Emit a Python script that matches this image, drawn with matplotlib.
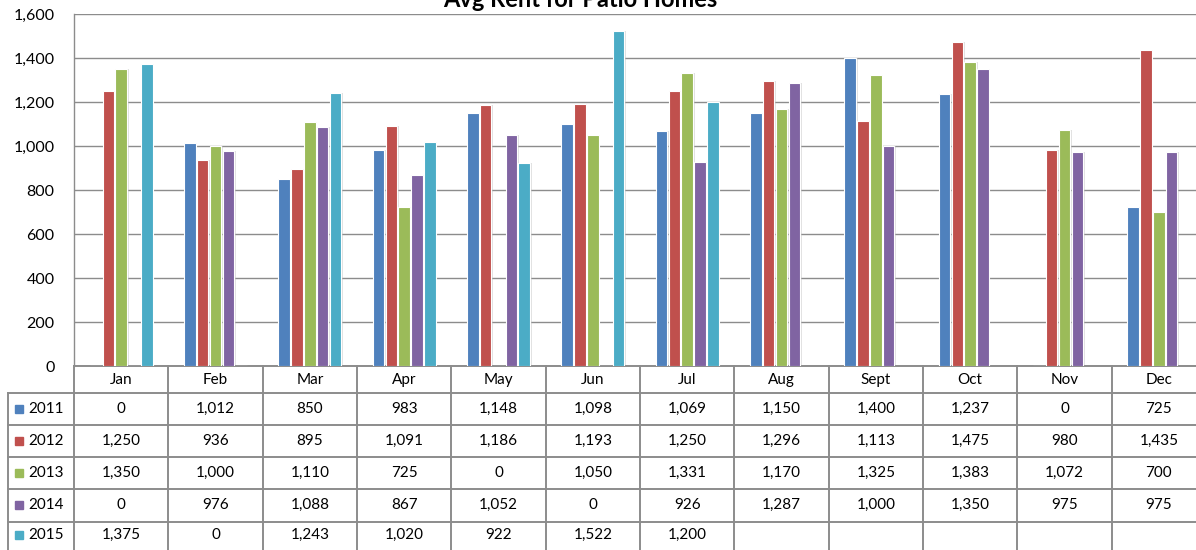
import numpy as np
import matplotlib
matplotlib.use("Agg")
import matplotlib.pyplot as plt
from matplotlib.patches import Rectangle

plt.rcParams['font.family'] = ['Lato', 'DejaVu Sans']

months = ["Jan", "Feb", "Mar", "Apr", "May", "Jun", "Jul", "Aug", "Sept", "Oct", "Nov", "Dec"]
years = ["2011", "2012", "2013", "2014", "2015"]
v2011 = [0, 1012, 850, 983, 1148, 1098, 1069, 1150, 1400, 1237, 0, 725]
v2012 = [1250, 936, 895, 1091, 1186, 1193, 1250, 1296, 1113, 1475, 980, 1435]
v2013 = [1350, 1000, 1110, 725, 0, 1050, 1331, 1170, 1325, 1383, 1072, 700]
v2014 = [0, 976, 1088, 867, 1052, 0, 926, 1287, 1000, 1350, 975, 975]
v2015 = [1375, 0, 1243, 1020, 922, 1522, 1200, None, None, None, None, None]
series = [v2011, v2012, v2013, v2014, v2015]
colors = ["#4F81BD", "#C0504D", "#9BBB59", "#8064A2", "#4BACC6"]
yticks = [0, 200, 400, 600, 800, 1000, 1200, 1400, 1600]

W, H = 1196, 550
fig = plt.figure(figsize=(W / 100, H / 100), dpi=100)
left_px, right_px, top_px, bot_px = 74, 1206, 14, 366
ax = fig.add_axes([left_px / W, 1 - bot_px / H, (right_px - left_px) / W, (bot_px - top_px) / H])

n = len(months)
x = np.arange(n)
slot = 0.1357
bw = 0.122
for k, (vals, c) in enumerate(zip(series, colors)):
    v = np.array([np.nan if a is None else a for a in vals], dtype=float)
    off = (k - 2) * slot
    # soft shadow
    ax.bar(x + off + 0.018, v, width=bw, color="#bdbdbd", alpha=0.45, zorder=2, linewidth=0)
    ax.bar(x + off, v, width=bw, color=c, edgecolor="white", linewidth=0.8, zorder=3)

ax.set_xlim(-0.5, n - 0.5)
ax.set_ylim(0, 1600)
ax.set_yticks(yticks)
ax.set_yticklabels([f"{t:,}" for t in yticks], fontsize=11.5)
ax.tick_params(axis="y", length=0, pad=14)
ax.set_xticks([])
ax.grid(axis="y", color="#8c8c8c", linewidth=1.0, zorder=0)
ax.set_axisbelow(True)
for s in ["top", "right", "bottom"]:
    ax.spines[s].set_visible(False)
ax.spines["left"].set_color("#8c8c8c")
ax.spines["left"].set_linewidth(1.0)

# Title
fig.text(580 / W, 1 - 7 / H, "Avg Rent for Patio Homes", ha="center", va="baseline",
         fontsize=17, fontweight="bold")

# Data table below the axis
trans = ax.get_xaxis_transform()
hpx = bot_px - top_px
def ay(py):
    return -(py - bot_px) / hpx

row_edges = [366, 393, 425, 457, 489, 522, 560]
row_centers = [409, 441, 473, 505, 535]
lab_left = -0.5 - (left_px - 8) / ((right_px - left_px) / n)
lc = "#8c8c8c"
lw = 1.4
ax.plot([-0.5, n - 0.5], [ay(366), ay(366)], transform=trans, color=lc, lw=lw, clip_on=False)
for py in row_edges[1:-1]:
    ax.plot([lab_left, n - 0.5], [ay(py), ay(py)], transform=trans, color=lc, lw=lw, clip_on=False)
for i in range(n + 1):
    ax.plot([i - 0.5, i - 0.5], [ay(366), ay(560)], transform=trans, color=lc, lw=lw, clip_on=False)
ax.plot([lab_left, lab_left], [ay(393), ay(560)], transform=trans, color=lc, lw=lw, clip_on=False)

fs = 11
for i, m in enumerate(months):
    ax.text(i, ay(380), m, transform=trans, ha="center", va="center", fontsize=fs)
px_per_unit = (right_px - left_px) / n
for r, (yr, vals, c) in enumerate(zip(years, series, colors)):
    yc = ay(row_centers[r])
    sq = 8 / px_per_unit
    x0 = lab_left + 7 / px_per_unit
    ax.add_patch(Rectangle((x0, yc - 4 / hpx), sq, 8 / hpx, transform=trans,
                           color=c, clip_on=False))
    ax.text(lab_left + 20 / px_per_unit, yc, yr, transform=trans, ha="left", va="center", fontsize=fs)
    for i, v in enumerate(vals):
        if v is None:
            continue
        ax.text(i, yc, f"{v:,}", transform=trans, ha="center", va="center", fontsize=fs)

fig.savefig("out.png", dpi=100)
